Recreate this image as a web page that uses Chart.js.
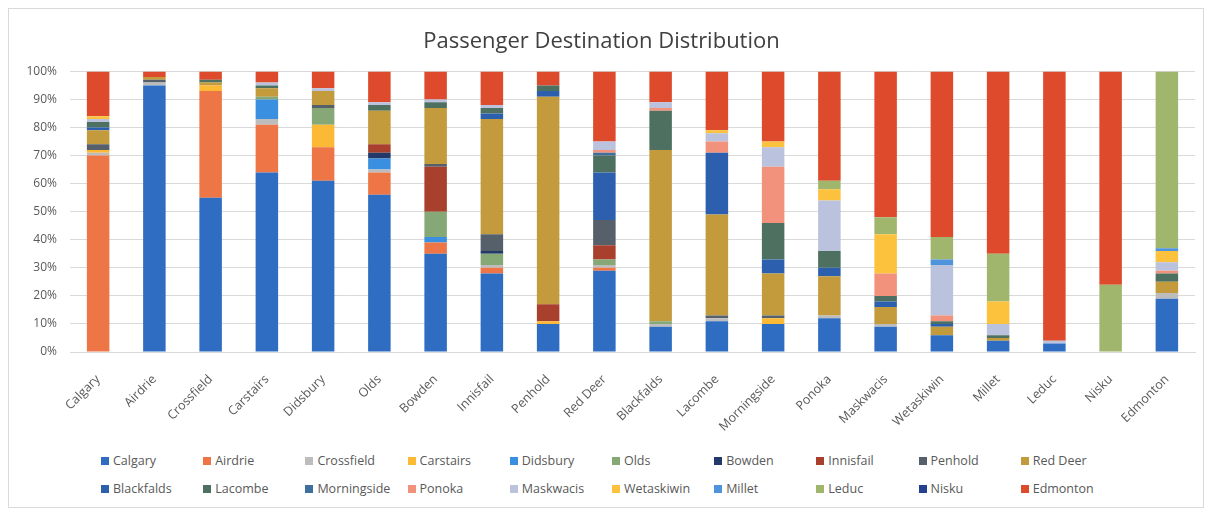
<!DOCTYPE html>
<html>
<head>
<meta charset="utf-8">
<script src="https://cdn.jsdelivr.net/npm/chart.js@4.4.1/dist/chart.umd.min.js"></script>
<style>
  body { margin: 0; background: #fff; font-family: "Open Sans", Lato, sans-serif; }
  #frame { position: absolute; left: 8px; top: 8px; width: 1196px; height: 500px; border: 1px solid #d9d9d9; box-sizing: border-box; }
  #wrap { position: absolute; left: 8px; top: 8px; width: 1196px; height: 440px; }
  #legend { position: absolute; left: 101px; top: 452px; width: 1030px; display: grid; grid-template-columns: repeat(10, 102.2px); row-gap: 11px; }
  .item { font-size: 12.5px; color: #595959; white-space: nowrap; display: flex; align-items: center; height: 17px; }
  .box { width: 8px; height: 8px; margin-right: 4px; flex: none; }
</style>
</head>
<body>
<div id="frame"></div>
<div id="wrap"><canvas id="dest"></canvas></div>
<div id="legend"></div>
<script>
// origin towns (one bar each)
const towns = ['Calgary', 'Airdrie', 'Crossfield', 'Carstairs', 'Didsbury', 'Olds', 'Bowden', 'Innisfail', 'Penhold', 'Red Deer',
  'Blackfalds', 'Lacombe', 'Morningside', 'Ponoka', 'Maskwacis', 'Wetaskiwin', 'Millet', 'Leduc', 'Nisku', 'Edmonton'];

// share of passengers (%) heading to each destination, one value per origin town
const toCalgary     = [0, 95, 55, 64, 61, 56, 35, 28, 10, 29, 9, 11, 10, 12, 9, 6, 4, 3, 0, 19];
const toAirdrie     = [70, 0, 38, 17, 12, 8, 4, 2, 0, 1, 0, 0, 0, 0, 0, 0, 0, 0, 0, 0];
const toCrossfield  = [1, 1, 0, 2, 0, 1, 0, 1, 0, 1, 1, 1, 0, 1, 1, 0, 0, 0, 0, 2];
const toCarstairs   = [1, 0, 2, 0, 8, 0, 0, 0, 1, 0, 0, 0, 2, 0, 0, 0, 0, 0, 0, 0];
const toDidsbury    = [0, 0, 0, 7, 0, 4, 2, 0, 0, 0, 0, 0, 0, 0, 0, 0, 0, 0, 0, 0];
const toOlds        = [0, 0, 0, 1, 6, 0, 9, 4, 0, 2, 1, 0, 0, 0, 0, 0, 0, 0, 0, 0];
const toBowden      = [0, 0, 0, 0, 0, 2, 0, 1, 0, 0, 0, 0, 0, 0, 0, 0, 0, 0, 0, 0];
const toInnisfail   = [0, 0, 0, 0, 0, 3, 16, 0, 6, 5, 0, 0, 0, 0, 0, 0, 0, 0, 0, 0];
const toPenhold     = [2, 1, 0, 0, 1, 0, 1, 6, 0, 9, 0, 1, 1, 0, 0, 0, 0, 0, 0, 0];
const toRedDeer     = [5, 1, 1, 3, 5, 12, 20, 41, 74, 0, 61, 36, 15, 14, 6, 3, 1, 0, 0, 4];
const toBlackfalds  = [1, 0, 0, 0, 0, 0, 0, 2, 2, 17, 0, 22, 5, 3, 2, 1, 0, 0, 0, 0];
const toLacombe     = [2, 0, 1, 1, 0, 2, 2, 2, 2, 6, 14, 0, 13, 6, 2, 1, 1, 0, 0, 3];
const toMorningside = [0, 0, 0, 0, 0, 0, 0, 0, 0, 1, 0, 0, 0, 0, 0, 0, 0, 0, 0, 0];
const toPonoka      = [0, 0, 0, 0, 0, 0, 0, 0, 0, 1, 1, 4, 20, 0, 8, 2, 0, 0, 0, 1];
const toMaskwacis   = [1, 0, 0, 1, 1, 1, 1, 1, 0, 3, 2, 3, 7, 18, 0, 18, 4, 1, 0, 3];
const toWetaskiwin  = [1, 0, 0, 0, 0, 0, 0, 0, 0, 0, 0, 1, 2, 4, 14, 0, 8, 0, 0, 4];
const toMillet      = [0, 0, 0, 0, 0, 0, 0, 0, 0, 0, 0, 0, 0, 0, 0, 2, 0, 0, 0, 1];
const toLeduc       = [0, 0, 0, 0, 0, 0, 0, 0, 0, 0, 0, 0, 0, 3, 6, 8, 17, 0, 24, 63];
const toNisku       = [0, 0, 0, 0, 0, 0, 0, 0, 0, 0, 0, 0, 0, 0, 0, 0, 0, 0, 0, 0];
const toEdmonton    = [16, 2, 3, 4, 6, 11, 10, 12, 5, 25, 11, 21, 25, 39, 52, 59, 65, 96, 76, 0];

const yTicks = [0, 10, 20, 30, 40, 50, 60, 70, 80, 90, 100];

const shares = [toCalgary, toAirdrie, toCrossfield, toCarstairs, toDidsbury, toOlds, toBowden, toInnisfail, toPenhold, toRedDeer,
  toBlackfalds, toLacombe, toMorningside, toPonoka, toMaskwacis, toWetaskiwin, toMillet, toLeduc, toNisku, toEdmonton];

const colors = ['#2e6dc2', '#ee7545', '#bdbdbd', '#fbb935', '#3b8fe0', '#86a877', '#22396a', '#a9402d', '#56606b', '#c39a3c',
  '#2c60ae', '#4d7061', '#3f6f9e', '#f2917c', '#bac2de', '#fcc23e', '#4d94dc', '#a0b66d', '#24408e', '#dd4b2c'];

const datasets = towns.map((t, i) => ({
  label: t,
  data: shares[i],
  backgroundColor: colors[i],
  borderWidth: 0,
  categoryPercentage: 1,
  barPercentage: 0.4
}));

const ctx = document.getElementById('dest').getContext('2d');
const chart = new Chart(ctx, {
  type: 'bar',
  data: { labels: towns, datasets: datasets },
  options: {
    responsive: true,
    maintainAspectRatio: false,
    animation: false,
    layout: { padding: { left: 0, right: 9, top: 0, bottom: 0 } },
    plugins: {
      legend: { display: false },
      tooltip: { enabled: false },
      title: {
        display: true,
        text: 'Passenger Destination Distribution',
        color: '#404040',
        font: { family: 'Open Sans', size: 22, weight: 'normal' },
        padding: { top: 21, bottom: 16 }
      }
    },
    scales: {
      x: {
        stacked: true,
        grid: { display: false },
        border: { color: '#d9d9d9' },
        ticks: { color: '#595959', font: { family: 'Open Sans', size: 12.5 }, maxRotation: 45, minRotation: 45, padding: 12, autoSkip: false },
        afterFit: s => { s.height = 96; }
      },
      y: {
        stacked: true,
        min: 0,
        max: 100,
        afterBuildTicks: s => { s.ticks = yTicks.map(v => ({ value: v })); },
        grid: { color: '#d9d9d9', drawTicks: false },
        border: { display: false },
        ticks: { color: '#595959', font: { family: 'Open Sans', size: 12 }, padding: 13, callback: v => v + '%' },
        afterFit: s => { s.width = 62; }
      }
    }
  }
});

// legend laid out in fixed columns, two rows of ten
const legend = document.getElementById('legend');
towns.forEach((t, i) => {
  const it = document.createElement('div');
  it.className = 'item';
  it.innerHTML = '<span class="box" style="background:' + colors[i] + '"></span>' + t;
  legend.appendChild(it);
});
</script>
</body>
</html>
